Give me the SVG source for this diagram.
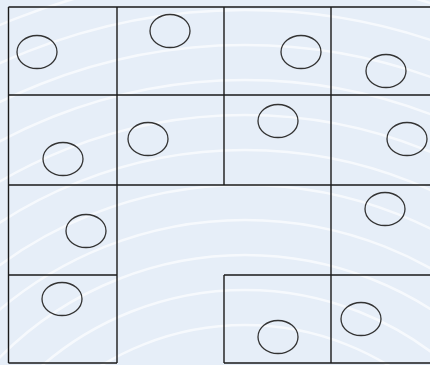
<svg xmlns="http://www.w3.org/2000/svg" width="430" height="365" viewBox="0 0 430 365">
<style>
.bg{fill:#e6eef8}
.arc{fill:none;stroke:#ffffff;stroke-width:2.5;stroke-opacity:0.65}
.grid{fill:none;stroke:#1a1a1a;stroke-width:1.4}
.c{fill:none;stroke:#333333;stroke-width:1.3}
</style>
<rect class="bg" x="0" y="0" width="430" height="365"/>
<g id="stripes">
<circle class="arc" cx="245" cy="600" r="275"/>
<circle class="arc" cx="245" cy="600" r="310"/>
<circle class="arc" cx="245" cy="600" r="345"/>
<circle class="arc" cx="245" cy="600" r="380"/>
<circle class="arc" cx="245" cy="600" r="415"/>
<circle class="arc" cx="245" cy="600" r="450"/>
<circle class="arc" cx="245" cy="600" r="485"/>
<circle class="arc" cx="245" cy="600" r="520"/>
<circle class="arc" cx="245" cy="600" r="555"/>
<circle class="arc" cx="245" cy="600" r="590"/>
<circle class="arc" cx="245" cy="600" r="625"/>
<circle class="arc" cx="245" cy="600" r="660"/>
<circle class="arc" cx="245" cy="600" r="695"/>
</g>
<g id="grid">
<path class="grid" d="M8.5,7H430 M8.5,95H430 M8.5,185H430 M8.5,275H117 M224,275H430 M8.5,363H117 M224,363H430 M8.5,7V363 M117,7V363 M224,7V185 M224,275V363 M331,7V363"/>
</g>
<g id="n1"><ellipse class="c" cx="37" cy="52" rx="20" ry="16.5"/></g>
<g id="n2"><ellipse class="c" cx="170" cy="31" rx="20" ry="16.5"/></g>
<g id="n3"><ellipse class="c" cx="301" cy="52" rx="20" ry="16.5"/></g>
<g id="n4"><ellipse class="c" cx="386" cy="71" rx="20" ry="16.5"/></g>
<g id="n5"><ellipse class="c" cx="63" cy="159" rx="20" ry="16.5"/></g>
<g id="n6"><ellipse class="c" cx="148" cy="139" rx="20" ry="16.5"/></g>
<g id="n7"><ellipse class="c" cx="278" cy="121" rx="20" ry="16.5"/></g>
<g id="n8"><ellipse class="c" cx="407" cy="139" rx="20" ry="16.5"/></g>
<g id="n9"><ellipse class="c" cx="86" cy="231" rx="20" ry="16.5"/></g>
<g id="n10"><ellipse class="c" cx="385" cy="209" rx="20" ry="16.5"/></g>
<g id="n11"><ellipse class="c" cx="62" cy="299" rx="20" ry="16.5"/></g>
<g id="n12"><ellipse class="c" cx="278" cy="337" rx="20" ry="16.5"/></g>
<g id="n13"><ellipse class="c" cx="361" cy="319" rx="20" ry="16.5"/></g>
</svg>
